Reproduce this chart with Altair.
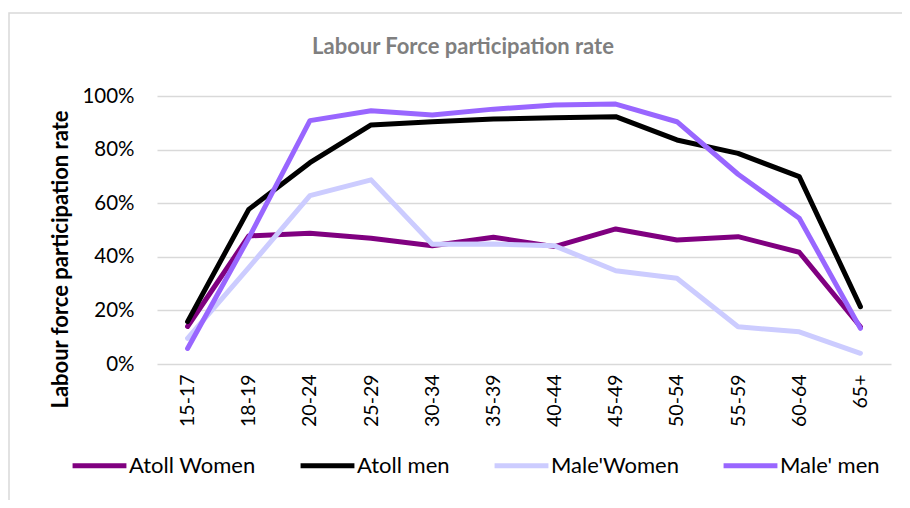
import altair as alt
import pandas as pd

ages = ["15-17", "18-19", "20-24", "25-29", "30-34", "35-39", "40-44",
        "45-49", "50-54", "55-59", "60-64", "65+"]
series_names = ["Atoll Women", "Atoll men", "Male'Women", "Male' men"]
atoll_women = [0.14, 0.478, 0.488, 0.469, 0.441, 0.473, 0.438, 0.504, 0.463, 0.475, 0.417, 0.139]
atoll_men = [0.158, 0.577, 0.751, 0.892, 0.904, 0.914, 0.919, 0.923, 0.836, 0.786, 0.699, 0.214]
male_women = [0.096, 0.36, 0.628, 0.687, 0.447, 0.448, 0.441, 0.348, 0.32, 0.139, 0.12, 0.04]
male_men = [0.058, 0.47, 0.908, 0.945, 0.929, 0.951, 0.966, 0.97, 0.904, 0.708, 0.544, 0.133]
colors = ["#800080", "#000000", "#ccccff", "#9966ff"]
widths = [5, 5, 3.5, 3.5]

rows = []
for name, vals in zip(series_names, [atoll_women, atoll_men, male_women, male_men]):
    for i, (a, v) in enumerate(zip(ages, vals)):
        rows.append({"age": a, "series": name, "value": v, "order": i})
df = pd.DataFrame(rows)

FONT = "Lato"

frame = alt.Chart(pd.DataFrame({"k": [0]})).mark_rect(
    fill="white", fillOpacity=0, stroke="#d9d9d9", strokeWidth=1.5
).encode(x=alt.value(-148), x2=alt.value(760), y=alt.value(-83), y2=alt.value(420))

title = alt.Chart(pd.DataFrame({"t": ["Labour Force participation rate"]})).mark_text(
    font=FONT, fontSize=22, fontWeight="bold", color="#7f7f7f", align="center", baseline="middle"
).encode(text="t:N", x=alt.value(306), y=alt.value(-49))

lines = alt.Chart(df).mark_line(strokeCap="round", strokeJoin="round").encode(
    x=alt.X("age:N", sort=ages, scale=alt.Scale(type="point", padding=0.5),
            axis=alt.Axis(title=None, labelAngle=-90, labelFont=FONT, labelFontSize=19.5,
                          labelColor="#000000", labelPadding=10, ticks=False, domain=False,
                          grid=False)),
    y=alt.Y("value:Q", scale=alt.Scale(domain=[0, 1]),
            axis=alt.Axis(format=".0%", values=[0, 0.2, 0.4, 0.6, 0.8, 1.0],
                          title="Labour force participation rate",
                          titleFont=FONT, titleFontSize=22, titleFontWeight="bold",
                          titleColor="#000000", titleX=-97, titleY=163, titleAngle=-90,
                          titleBaseline="middle", titleAlign="center",
                          labelFont=FONT, labelFontSize=20.5, labelColor="#000000",
                          labelPadding=23, ticks=False, domain=False,
                          gridColor="#d9d9d9", gridWidth=1.5)),
    color=alt.Color("series:N", sort=series_names,
                    scale=alt.Scale(domain=series_names, range=colors),
                    legend=alt.Legend(title=None, orient="none", direction="horizontal",
                                      legendX=-87, legendY=340, symbolType="stroke",
                                      symbolSize=2900, symbolStrokeWidth=5,
                                      labelFont=FONT, labelFontSize=22, labelColor="#000000",
                                      labelOffset=0, columnPadding=34, labelLimit=300)),
    strokeWidth=alt.StrokeWidth("series:N", sort=series_names,
                                scale=alt.Scale(domain=series_names, range=widths),
                                legend=None),
    order=alt.Order("order:Q"),
    detail="series:N",
)

chart = alt.layer(frame, title, lines).properties(
    width=734, height=268,
    padding={"left": 149, "top": 88, "right": 11, "bottom": 136},
    autosize="none",
    background="white",
).configure_view(stroke=None)

chart.save("out.html", embed_options={"renderer": "svg", "actions": False})
